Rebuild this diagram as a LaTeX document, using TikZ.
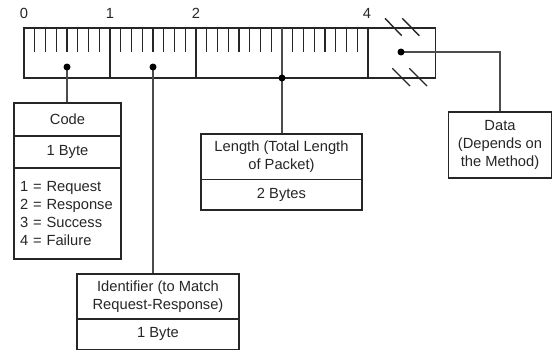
\documentclass[tikz,border=0pt]{standalone}
\usepackage{fontspec}
\setmainfont{Liberation Sans}
\begin{document}
\begin{tikzpicture}[x=1pt,y=-1pt,
  line/.style={draw=black!85, line width=1.35pt},
  box/.style={draw=black!85, line width=1.35pt, rectangle, inner sep=0pt, align=center, font=\fontsize{14.7}{17.7}\selectfont, text=black!85},
  conn/.style={draw=black!70, line width=1.1pt},
  dot/.style={circle, fill=black, inner sep=0pt, minimum size=7pt},
  num/.style={font=\fontsize{14.7}{17.7}\selectfont, anchor=base, inner sep=0pt, text=black!85},
  slash/.style={draw=black!85, line width=1.4pt}]
\useasboundingbox (0,0) rectangle (553,351);

% ruler
\draw[line] (24,28) rectangle (435.5,78);
\foreach \i in {1,...,23,25,26,...,31} \draw[line] ({24+10.75*\i},28) -- ++(0,24);
\foreach \x in {110,196,368} \draw[line] (\x,28) -- (\x,78);

% break marks
\draw[slash] (385,18.3) -- (401.7,35.7);
\draw[slash] (402.3,18.3) -- (419.3,35.7);
\draw[slash] (392.3,68.3) -- (410,86);
\draw[slash] (409.3,68.3) -- (427,86);

% byte numbers
\node[num] (l0) at (24,18.5) {0};
\node[num] (l1) at (110,18.5) {1};
\node[num] (l2) at (196,18.5) {2};
\node[num] (l4) at (367,18.5) {4};

% boxes
\node[box, minimum width=107pt, minimum height=33pt] (codeT) at (67.5,119.5) {Code};
\node[box, minimum width=107pt, minimum height=32pt] (codeB) at (67.5,152) {1 Byte};
\node[box, minimum height=91pt, inner xsep=6pt, text width=95pt, align=left] (codeL) at (67.5,213.5)
  {1 = Request\\2 = Response\\3 = Success\\4 = Failure};

\node[box, minimum width=162pt, minimum height=45pt] (identT) at (158,296.5) {Identifier (to Match\\Request-Response)};
\node[box, minimum width=162pt, minimum height=30.5pt] (identB) at (158,334.25) {1 Byte};

\node[box, minimum width=161pt, minimum height=45.3pt] (lenT) at (281.5,156.65) {Length (Total Length\\of Packet)};
\node[box, minimum width=161pt, minimum height=30.7pt] (lenB) at (281.5,194.65) {2 Bytes};

\node[box, minimum width=103.5pt, minimum height=66pt] (data) at (500,145) {Data\\(Depends on\\the Method)};

% connectors
\coordinate (codedotc) at (67,67);
\coordinate (iddotc) at (153,67);
\coordinate (lendotc) at (282,78);
\coordinate (lentop) at (282,28);
\coordinate (datadotc) at (401,52);
\draw[conn] (codedotc) -- (codedotc |- codeT.north);
\draw[conn] (iddotc) -- (iddotc |- identT.north);
\draw[conn] (lentop) -- (lendotc) -- (lendotc |- lenT.north);
\draw[conn] (datadotc) -| (data.north);

% dots
\node[dot] (codedot) at (codedotc) {};
\node[dot] (iddot) at (iddotc) {};
\node[dot] (lendot) at (lendotc) {};
\node[dot] (datadot) at (datadotc) {};
\end{tikzpicture}
\end{document}
